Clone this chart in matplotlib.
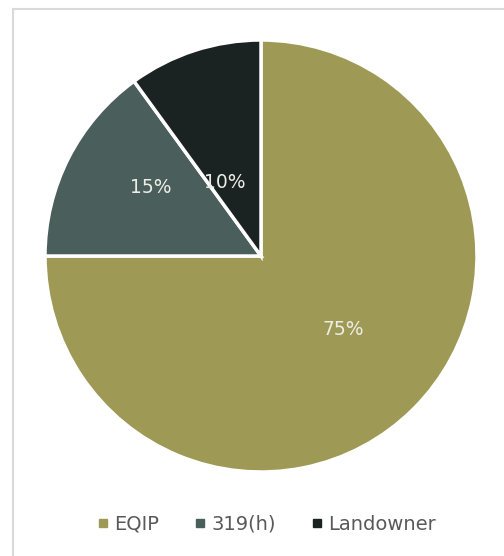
import numpy as np
import matplotlib.pyplot as plt
from matplotlib.lines import Line2D

# Funding share by source
sources = ['EQIP', '319(h)', 'Landowner']
shares = [75, 15, 10]
colors = ['#9E9A56', '#4A5E5C', '#1B2322']

fig = plt.figure(figsize=(5.04, 5.56), dpi=100)
ax = fig.add_axes([45 / 504, 84 / 556, 432 / 504, 432 / 556])

wedges, _ = ax.pie(shares, colors=colors, startangle=90, counterclock=False,
                   radius=1.0, wedgeprops=dict(edgecolor='white', linewidth=2.5))
ax.set_xlim(-1, 1)
ax.set_ylim(-1, 1)
ax.set_aspect('equal')

# label distances differ per wedge, like the original layout
label_r = [0.51, 0.60, 0.38]
label_shift = [3, -5, 8]
for w, v, r, s in zip(wedges, shares, label_r, label_shift):
    ang = np.deg2rad((w.theta1 + w.theta2) / 2 + s)
    ax.text(r * np.cos(ang), r * np.sin(ang), f'{v}%', ha='center', va='center',
            fontsize=13.5, color='#EDEDE6')

handles = [Line2D([], [], marker='s', linestyle='', markersize=6,
                  markerfacecolor=c, markeredgecolor=c) for c in colors]
fig.legend(handles, sources, loc='center', bbox_to_anchor=(0.525, 1 - 524 / 556),
           ncol=3, frameon=False, fontsize=14, labelcolor='#595959',
           handletextpad=0.1, columnspacing=1.6, handlelength=1.0)

# partial frame visible in the crop (top and left edges only)
fig.add_artist(Line2D([13 / 504, 13 / 504], [0, 1 - 9 / 556], transform=fig.transFigure,
                      color='#D9D9D9', linewidth=1.5))
fig.add_artist(Line2D([13 / 504, 1], [1 - 9 / 556, 1 - 9 / 556], transform=fig.transFigure,
                      color='#D9D9D9', linewidth=1.5))

fig.savefig('out.png', dpi=100)
